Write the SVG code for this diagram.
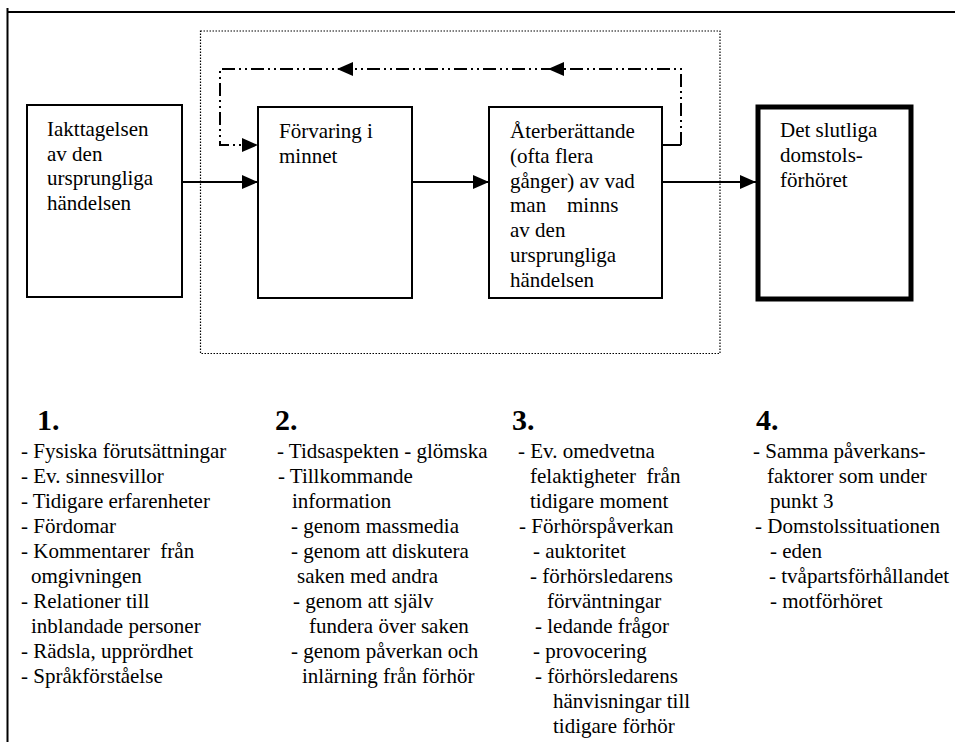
<svg xmlns="http://www.w3.org/2000/svg" width="955" height="742" viewBox="0 0 955 742" font-family="'Liberation Serif', 'Times New Roman', Times, serif">
<style>
text{font-family:'Liberation Serif','Times New Roman',Times,serif;font-size:21px;fill:#000}
.h{font-weight:bold;font-size:30px}
.box{fill:#fff;stroke:#000;stroke-width:2}
.thick{fill:#fff;stroke:#000;stroke-width:5}
.ln{fill:none;stroke:#000;stroke-width:2}
.dd{fill:none;stroke:#000;stroke-width:2;stroke-dasharray:13 4 2 4 2 4}
.dot{fill:none;stroke:#000;stroke-width:1.2;stroke-dasharray:1.5 1.5}
</style>
<defs>
<marker id="ah" markerWidth="16" markerHeight="14" refX="16" refY="7" orient="auto" markerUnits="userSpaceOnUse">
<path d="M0,0 L16,7 L0,14 Z" fill="#000"/>
</marker>
</defs>
<rect width="955" height="742" fill="#fff"/>
<g id="frame">
<line x1="7.5" y1="8" x2="7.5" y2="742" stroke="#000" stroke-width="2"/>
<line x1="7" y1="12" x2="955" y2="12" stroke="#000" stroke-width="2"/>
</g>
<g id="dotted-frame">
<rect class="dot" x="200.5" y="31" width="519.5" height="322.5"/>
</g>
<g id="connectors">
<line class="ln" x1="182" y1="182" x2="258" y2="182" marker-end="url(#ah)"/>
<line class="ln" x1="412" y1="182" x2="489" y2="182" marker-end="url(#ah)"/>
<line class="ln" x1="662" y1="182" x2="756" y2="182" marker-end="url(#ah)"/>
<path class="ln" d="M662,145 H681"/>
<path class="dd" d="M681,145 V69 H220 V145 H244"/>
<path d="M242,138 L258,145 L242,152 Z" fill="#000"/>
<path d="M337,69 L353,62 L353,76 Z" fill="#000"/>
<path d="M548,69 L564,62 L564,76 Z" fill="#000"/>
</g>
<g id="node1">
<rect class="box" x="27" y="105" width="155" height="192"/>
<text x="47" y="136">Iakttagelsen</text>
<text x="47" y="160.7">av den</text>
<text x="47" y="185.3">ursprungliga</text>
<text x="47" y="210">händelsen</text>
</g>
<g id="node2">
<rect class="box" x="258" y="107" width="154" height="191"/>
<text x="279" y="138">Förvaring i</text>
<text x="279" y="163">minnet</text>
</g>
<g id="node3">
<rect class="box" x="489" y="107" width="173" height="191"/>
<text x="510" y="137.7">Återberättande</text>
<text x="510" y="162.6">(ofta flera</text>
<text x="510" y="187.5">gånger) av vad</text>
<text x="510" y="212.4">man</text>
<text x="567" y="212.4">minns</text>
<text x="510" y="237.3">av den</text>
<text x="510" y="262.2">ursprungliga</text>
<text x="510" y="287.1">händelsen</text>
</g>
<g id="node4">
<rect class="thick" x="758" y="107" width="153" height="192"/>
<text x="780" y="137">Det slutliga</text>
<text x="780" y="162">domstols-</text>
<text x="780" y="187">förhöret</text>
</g>
<g id="list1">
<text class="h" x="37" y="430">1.</text>
<text x="21" y="458">- Fysiska förutsättningar</text>
<text x="21" y="483">- Ev. sinnesvillor</text>
<text x="21" y="508">- Tidigare erfarenheter</text>
<text x="21" y="533">- Fördomar</text>
<text x="21" y="558" xml:space="preserve">- Kommentarer  från</text>
<text x="31" y="583">omgivningen</text>
<text x="21" y="608">- Relationer till</text>
<text x="31" y="633">inblandade personer</text>
<text x="21" y="658">- Rädsla, upprördhet</text>
<text x="21" y="683">- Språkförståelse</text>
</g>
<g id="list2">
<text class="h" x="275" y="430">2.</text>
<text x="277" y="458">- Tidsaspekten - glömska</text>
<text x="278" y="483">- Tillkommande</text>
<text x="292" y="508">information</text>
<text x="291" y="533">- genom massmedia</text>
<text x="291" y="558">- genom att diskutera</text>
<text x="297" y="583">saken med andra</text>
<text x="293" y="608">- genom att själv</text>
<text x="309" y="633">fundera över saken</text>
<text x="291" y="658">- genom påverkan och</text>
<text x="302" y="683">inlärning från förhör</text>
</g>
<g id="list3">
<text class="h" x="512" y="430">3.</text>
<text x="518" y="458">- Ev. omedvetna</text>
<text x="530" y="483" xml:space="preserve">felaktigheter  från</text>
<text x="530" y="508">tidigare moment</text>
<text x="519" y="533">- Förhörspåverkan</text>
<text x="533" y="558">- auktoritet</text>
<text x="530" y="583">- förhörsledarens</text>
<text x="547" y="608">förväntningar</text>
<text x="535" y="633">- ledande frågor</text>
<text x="533" y="658">- provocering</text>
<text x="535" y="683">- förhörsledarens</text>
<text x="553" y="708">hänvisningar till</text>
<text x="553" y="733">tidigare förhör</text>
</g>
<g id="list4">
<text class="h" x="756" y="430">4.</text>
<text x="753" y="458">- Samma påverkans-</text>
<text x="767" y="483">faktorer som under</text>
<text x="770" y="508">punkt 3</text>
<text x="755" y="533">- Domstolssituationen</text>
<text x="770" y="558">- eden</text>
<text x="769" y="583">- tvåpartsförhållandet</text>
<text x="770" y="608">- motförhöret</text>
</g>
</svg>
